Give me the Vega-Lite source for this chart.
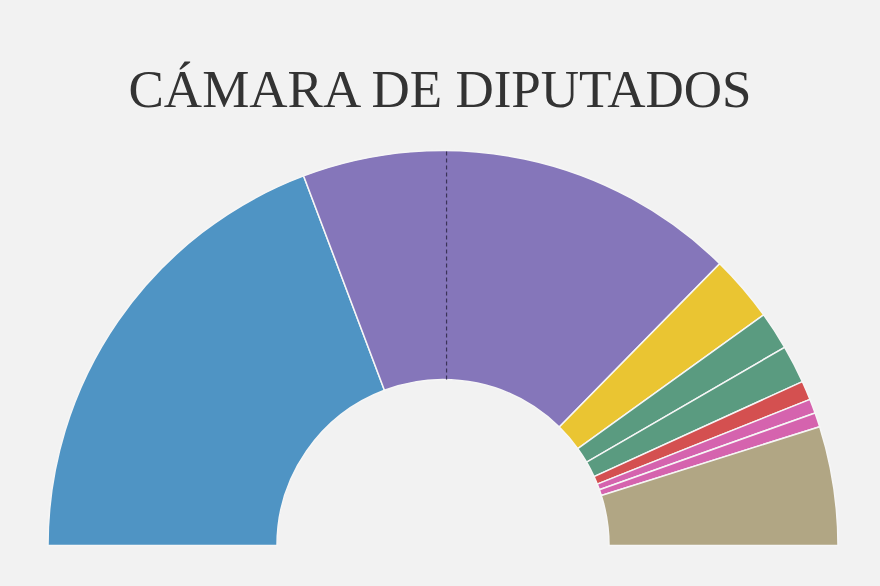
{
  "$schema": "https://vega.github.io/schema/vega-lite/v6.json",
  "width": 880,
  "height": 466,
  "autosize": "none",
  "padding": {"top": 120, "left": 0, "right": 0, "bottom": 0},
  "background": "#f2f2f2",
  "config": {"view": {"stroke": null}},
  "title": {
    "text": "CÁMARA DE DIPUTADOS",
    "font": "Liberation Serif",
    "fontSize": 53,
    "fontWeight": "normal",
    "color": "#333333",
    "anchor": "middle",
    "frame": "group",
    "baseline": "alphabetic",
    "offset": -40
  },
  "layer": [
    {
      "data": {
        "values": [
          {"orden": 1, "bloque": "Bloque 1", "escanos": 99},
          {"orden": 2, "bloque": "Bloque 2", "escanos": 93},
          {"orden": 3, "bloque": "Bloque 3", "escanos": 14},
          {"orden": 4, "bloque": "Bloque 4", "escanos": 8},
          {"orden": 5, "bloque": "Bloque 5", "escanos": 8},
          {"orden": 6, "bloque": "Bloque 6", "escanos": 4},
          {"orden": 7, "bloque": "Bloque 7", "escanos": 3},
          {"orden": 8, "bloque": "Bloque 8", "escanos": 3},
          {"orden": 9, "bloque": "Otros", "escanos": 25}
        ]
      },
      "mark": {"type": "arc", "innerRadius": 166, "outerRadius": 395, "stroke": "#f6f6f6", "strokeWidth": 1.5},
      "encoding": {
        "theta": {"field": "escanos", "type": "quantitative", "stack": true, "scale": {"range": [-1.5707963, 1.5707963]}},
        "order": {"field": "orden", "type": "quantitative"},
        "color": {
          "field": "bloque",
          "type": "nominal",
          "scale": {
            "domain": ["Bloque 1", "Bloque 2", "Bloque 3", "Bloque 4", "Bloque 5", "Bloque 6", "Bloque 7", "Bloque 8", "Otros"],
            "range": ["#4f94c4", "#8576ba", "#eac532", "#5a9b80", "#5a9b80", "#d45050", "#d563ae", "#d563ae", "#b1a684"]
          },
          "legend": null
        },
        "x": {"datum": 0, "type": "quantitative", "scale": {"domain": [-1.1215, 1.1063], "nice": false, "zero": false}, "axis": null},
        "y": {"datum": 0, "type": "quantitative", "scale": {"domain": [-0.1025, 1.0772], "nice": false, "zero": false}, "axis": null}
      }
    },
    {
      "data": {"values": [{"mayoria_x": 0.009, "r_interior": 0.42, "r_exterior": 1.0}]},
      "mark": {"type": "rule", "color": "#3b3358", "strokeDash": [4, 3], "strokeWidth": 1.2},
      "encoding": {
        "x": {"field": "mayoria_x", "type": "quantitative"},
        "y": {"field": "r_interior", "type": "quantitative"},
        "y2": {"field": "r_exterior"}
      }
    }
  ]
}
